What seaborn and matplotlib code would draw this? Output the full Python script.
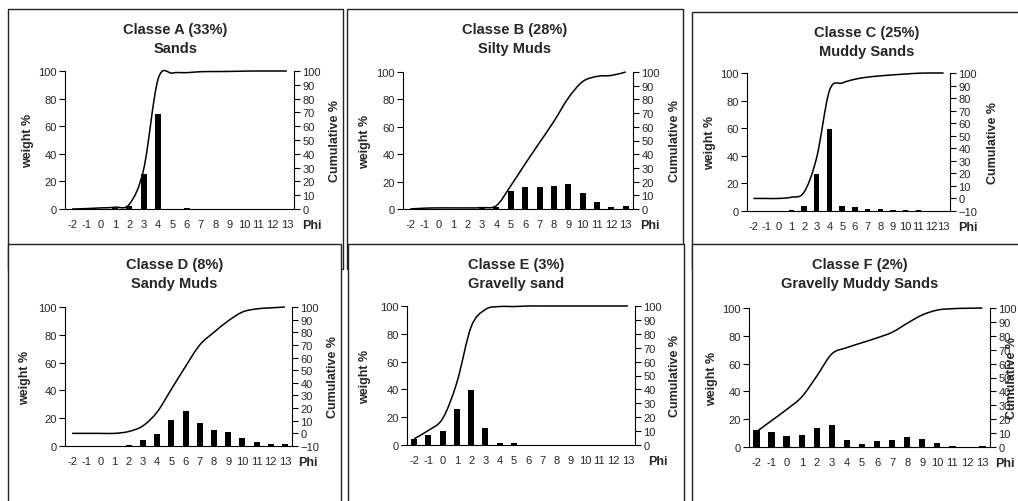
import numpy as np
import matplotlib
matplotlib.use("Agg")
import matplotlib.pyplot as plt
import seaborn as sns
from matplotlib.patches import Rectangle, PathPatch
from matplotlib.path import Path

# ---- data -------------------------------------------------------------
phi = [-2, -1, 0, 1, 2, 3, 4, 5, 6, 7, 8, 9, 10, 11, 12, 13]
phi_labels = ["-2", "-1", "0", "1", "2", "3", "4", "5", "6", "7", "8", "9",
              "10", "11", "12", "13"]

titles = ["Classe A (33%)", "Classe B (28%)", "Classe C (25%)",
          "Classe D (8%)", "Classe E (3%)", "Classe F (2%)"]
subtitles = ["Sands", "Silty Muds", "Muddy Sands",
             "Sandy Muds", "Gravelly sand", "Gravelly Muddy Sands"]

weight_a = [0, 0, 0, 0.5, 2.5, 25.5, 68.5, 0, 0.8, 0, 0, 0, 0, 0, 0, 0]
cum_a = [0, 0.3, 0.8, 1.3, 3.5, 29, 94, 98.5, 98.8, 99.5, 99.6, 99.7,
         99.9, 100, 100, 100]

weight_b = [0, 0, 0, 0, 0, 0.5, 1.5, 13.3, 15.8, 15.8, 16.5, 18.2, 11.7,
            4.8, 1.2, 2.4]
cum_b = [0, 0.6, 0.8, 0.8, 0.8, 1.0, 2.5, 17, 33, 48.5, 64, 81, 93, 96.8,
         97.5, 100]

weight_c = [0, 0, 0, 0.7, 3.6, 26.5, 59.5, 3.6, 2.9, 1.4, 1.2, 0.7, 0.7,
            0.7, 0, 0]
cum_c = [0, 0, 0, 1.0, 5.0, 33, 86, 92, 95, 96.7, 97.7, 98.5, 99.2, 99.8,
         100, 100]

weight_d = [0, 0, 0, 0, 1.0, 4.1, 8.9, 18.4, 24.9, 16.2, 11.8, 10.4, 5.6,
            2.7, 1.2, 1.2]
cum_d = [0, 0, 0, 0, 1.5, 6, 17, 35, 53, 70, 80, 89, 96, 98.5, 99.3, 100]

weight_e = [4.6, 7.4, 9.8, 25.7, 39.8, 12.2, 1.7, 1.2, 0, 0, 0, 0, 0, 0, 0, 0]
cum_e = [4.5, 10.5, 19, 45, 85, 97.5, 99.6, 99.6, 100, 100, 100, 100, 100,
         100, 100, 100]

weight_f = [12, 10.5, 7.7, 8.5, 14, 15.6, 5.1, 2.2, 4.1, 5.1, 7.1, 5.7, 2.8,
            0.8, 0, 0.8]
cum_f = [11, 19, 27, 36, 51, 67, 71.5, 75, 78.5, 82.5, 89, 95, 98.5, 99.5,
         99.8, 100]

weights = [weight_a, weight_b, weight_c, weight_d, weight_e, weight_f]
cums = [cum_a, cum_b, cum_c, cum_d, cum_e, cum_f]
right_limits = [(0, 100), (0, 100), (-10, 100), (-10, 100), (0, 100), (0, 100)]

# ---- layout (pixels) ----------------------------------------------------
W, H = 1018, 502
# chart frame: left, top, right, bottom
frames = [(8, 10, 343, 270), (347, 10, 683, 270), (692, 13, 1042, 270),
          (8, 245, 341, 520), (348, 245, 684, 520), (692, 245, 1028, 520)]
# plot area: left, top, right, bottom
plots = [(65, 72, 294, 210), (403, 73, 633, 210), (747, 74, 950, 212),
         (65, 308, 292, 447), (407, 307, 635, 446), (749, 309, 990, 448)]
phi_x = [312, 650, 968, 308, 658, 1005]
cumlab_x = [335, 675, 993, 333, 675, 1012]
weightlab_x = [28, 365, 710, 25, 365, 712]

sns.set_style("white")
plt.rcParams["font.family"] = ["Liberation Sans", "DejaVu Sans"]
plt.rcParams["axes.linewidth"] = 0.8

fig = plt.figure(figsize=(W / 100, H / 100), dpi=100)
fig.patch.set_facecolor("white")


def fx(px):
    return px / W


def fy(py):
    return 1 - py / H


def smooth_path(xs, ys):
    """Bezier path through the points, spreadsheet-style smoothing."""
    pts = np.column_stack([xs, ys]).astype(float)
    n = len(pts)
    verts = [pts[0]]
    codes = [Path.MOVETO]
    for i in range(n - 1):
        p0 = pts[i - 1] if i > 0 else pts[i]
        p1, p2 = pts[i], pts[i + 1]
        p3 = pts[i + 2] if i + 2 < n else pts[i + 1]
        c1 = p1 + (p2 - p0) / 6.0
        c2 = p2 - (p3 - p1) / 6.0
        verts += [c1, c2, p2]
        codes += [Path.CURVE4] * 3
    return Path(verts, codes)


for i in range(6):
    z = 2 * i + 1
    l, t, r, b = frames[i]
    fig.patches.append(Rectangle((fx(l), fy(b)), (r - l) / W, (b - t) / H,
                                 transform=fig.transFigure, facecolor="white",
                                 edgecolor="#222222", lw=1.0, zorder=z))
    pl, pt, pr, pb = plots[i]
    ax = fig.add_axes([fx(pl), fy(pb), (pr - pl) / W, (pb - pt) / H])
    ax.set_zorder(z + 0.2)
    ax.patch.set_visible(False)

    sns.barplot(x=phi, y=weights[i], native_scale=True, color="black",
                saturation=1, width=0.42, errorbar=None, linewidth=0, ax=ax)
    ax.set_xlim(-2.5, 13.5)
    ax.set_ylim(0, 100)
    ax.set_xticks(phi)
    ax.set_xticklabels(phi_labels)
    ax.set_xticks(np.arange(-2.5, 14, 1.0), minor=True)
    ax.set_yticks(range(0, 101, 20))
    ax.tick_params(axis="x", which="major", length=0, pad=7, labelsize=8)
    ax.tick_params(axis="x", which="minor", length=4, width=0.8,
                   direction="inout", color="black")
    ax.tick_params(axis="y", length=4, width=0.8, direction="out",
                   color="black", pad=2, labelsize=8, left=True)
    ax.set_xlabel("")
    ax.set_ylabel("")
    for s in ("top", "right"):
        ax.spines[s].set_visible(False)
    for s in ("left", "bottom"):
        ax.spines[s].set_color("black")

    ax2 = ax.twinx()
    ax2.set_zorder(z + 0.4)
    ax2.patch.set_visible(False)
    lo, hi = right_limits[i]
    ax2.set_ylim(lo, hi)
    ax2.set_yticks(range(lo, hi + 1, 10))
    ax2.tick_params(axis="y", length=4, width=0.8, direction="out",
                    color="black", pad=2, labelsize=8, right=True)
    for s in ("top", "left", "bottom"):
        ax2.spines[s].set_visible(False)
    ax2.spines["right"].set_color("black")
    curve = PathPatch(smooth_path(phi, cums[i]), facecolor="none",
                      edgecolor="black", lw=1.1, transform=ax2.transData,
                      clip_on=False)
    ax2.add_patch(curve)

    cx = (l + r) / 2
    fig.text(fx(cx), fy(t + 20), titles[i], ha="center", va="center",
             fontsize=10.5, fontweight="bold", zorder=z + 0.5)
    fig.text(fx(cx), fy(t + 39), subtitles[i], ha="center", va="center",
             fontsize=10.5, fontweight="bold", zorder=z + 0.5)
    ym = (pt + pb) / 2
    fig.text(fx(weightlab_x[i]), fy(ym), "weight %", rotation=90,
             ha="center", va="center", fontsize=9, fontweight="bold",
             zorder=z + 0.5)
    fig.text(fx(cumlab_x[i]), fy(ym), "Cumulative %", rotation=90,
             ha="center", va="center", fontsize=9, fontweight="bold",
             zorder=z + 0.5)
    fig.text(fx(phi_x[i]), fy(pb + 16), "Phi", ha="center", va="center",
             fontsize=9, fontweight="bold", zorder=z + 0.5)

fig.savefig("out.png", dpi=100, facecolor="white")
